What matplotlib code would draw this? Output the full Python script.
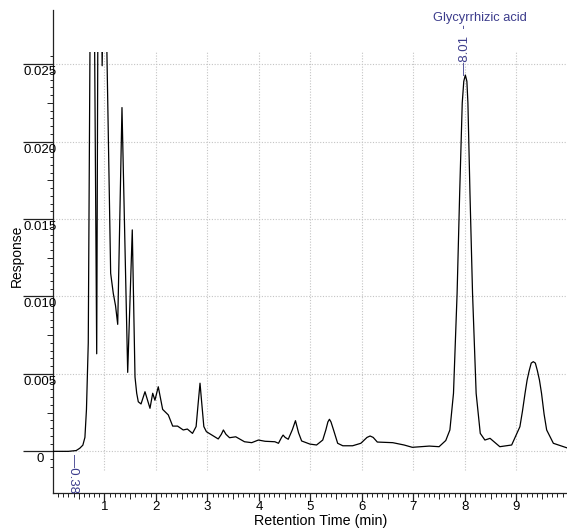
import numpy as np
import matplotlib
matplotlib.use("Agg")
import matplotlib.pyplot as plt
from matplotlib.ticker import FixedLocator
from matplotlib.patches import Rectangle
from matplotlib.transforms import ScaledTranslation

plt.rcParams['font.family'] = ['Liberation Sans', 'DejaVu Sans']

# chromatogram trace (time in min, response)
time_min = [0.00, 0.30, 0.45, 0.52, 0.58, 0.62, 0.65, 0.685, 0.76, 0.849,
            0.89, 0.955, 1.00, 1.12, 1.171, 1.215, 1.257, 1.34, 1.451, 1.54,
            1.593, 1.626, 1.657, 1.71, 1.787, 1.884, 1.937, 1.98, 2.045, 2.13,
            2.24, 2.325, 2.42, 2.53, 2.61, 2.71, 2.78, 2.82, 2.856, 2.89,
            2.93, 2.98, 3.21, 3.27, 3.31, 3.36, 3.43, 3.55, 3.72, 3.86, 3.99, 4.12,
            4.31, 4.38, 4.44, 4.47, 4.51, 4.57, 4.65, 4.71, 4.77, 4.83, 4.99, 5.12,
            5.24, 5.30, 5.34, 5.37, 5.40, 5.45, 5.53, 5.63, 5.82, 5.98, 6.10, 6.16, 6.22, 6.30,
            6.60, 6.82, 6.98, 7.31, 7.50, 7.63, 7.71, 7.78, 7.85, 7.90,
            7.95, 7.98, 8.01, 8.04, 8.06, 8.10, 8.15, 8.22, 8.30, 8.39, 8.49, 8.68,
            8.91, 9.07, 9.12, 9.17, 9.21, 9.25, 9.29, 9.33, 9.37, 9.41, 9.45, 9.49,
            9.54, 9.59, 9.72, 9.98]
response = [0.0, 0.0, 0.00005, 0.0002, 0.0004, 0.0009, 0.0027, 0.0070, 0.0500, 0.0063,
            0.0450, 0.0249, 0.0350, 0.0115, 0.0102, 0.0094, 0.0082, 0.0222, 0.0051, 0.0143,
            0.0048, 0.00375, 0.0032, 0.00306, 0.00385, 0.00278, 0.00375, 0.0033, 0.00417, 0.00271,
            0.00235, 0.00163, 0.00163, 0.00138, 0.00144, 0.00116, 0.0016, 0.0031, 0.0044, 0.0031,
            0.0016, 0.00127, 0.0008, 0.0011, 0.00138, 0.0011, 0.00088, 0.00094, 0.00062, 0.00056,
            0.00073, 0.00065,
            0.00062, 0.00052, 0.0009, 0.00105, 0.0009, 0.00078, 0.0014, 0.00198, 0.0012, 0.00067,
            0.00047, 0.00041,
            0.00073, 0.00138, 0.0019, 0.00207, 0.0019, 0.00138, 0.00052, 0.00036, 0.00036, 0.00052,
            0.0009, 0.00099, 0.0009, 0.0006,
            0.00056, 0.00041, 0.00026, 0.00034, 0.0003, 0.0007, 0.00138, 0.00375, 0.0102, 0.01667,
            0.0225, 0.0239, 0.0243, 0.0239, 0.0225, 0.01667, 0.0102, 0.00375, 0.00116, 0.00073,
            0.00084, 0.0003,
            0.00041, 0.00159, 0.0026, 0.00375, 0.0046, 0.0052, 0.0057, 0.00579, 0.0057, 0.0052,
            0.0046, 0.00375,
            0.0024, 0.00138, 0.00052, 0.00023]

peak_times = [0.38, 8.01]
compound = "Glycyrrhizic acid"

y_major = [0, 0.005, 0.010, 0.015, 0.020, 0.025]
y_labels = ['0', '0.005', '0.010', '0.015', '0.020', '0.025']
x_major = [1, 2, 3, 4, 5, 6, 7, 8, 9]

ann_col = '#3c3c8c'
grid_col = '#c4c4c4'
clip_top = 0.0258

fig = plt.figure(figsize=(5.67, 5.29), dpi=100)
ax = fig.add_axes([53 / 567, 36 / 529, 514 / 567, 483 / 529])
ax.set_xlim(0, 9.985)
ax.set_ylim(-0.00269, 0.0285)

for s in ['top', 'right']:
    ax.spines[s].set_visible(False)
for s in ['left', 'bottom']:
    ax.spines[s].set_linewidth(0.9)
    ax.spines[s].set_color('#222222')

# dotted grid inside the data window
ax.vlines(x_major, -0.0012, clip_top, colors=grid_col, linewidth=0.8,
          linestyles=(0, (1, 1.5)), zorder=0)
ax.hlines(y_major, 0, 9.985, colors=grid_col, linewidth=0.8,
          linestyles=(0, (1, 1.5)), zorder=0)

line, = ax.plot(time_min, response, color='black', lw=0.9, zorder=3)
clip = Rectangle((0, -0.0027), 10, clip_top + 0.0027, transform=ax.transData)
line.set_clip_path(clip)

# ticks
ax.set_yticks(y_major)
ax.yaxis.set_minor_locator(FixedLocator(
    [v for v in np.arange(-0.001, 0.02551, 0.0005) if abs(v / 0.0025 - round(v / 0.0025)) > 1e-6]))
ax.tick_params(axis='y', which='major', length=21.6, width=0.9, color='#222222', labelleft=False)
ax.tick_params(axis='y', which='minor', length=2.3, width=0.7, color='#222222')
sy = ax.secondary_yaxis('left')
sy.set_yticks([0.0025, 0.0075, 0.0125, 0.0175, 0.0225])
sy.tick_params(length=4, width=0.7, color='#222222', labelleft=False)
sy.spines['left'].set_visible(False)

ax.set_xticks(x_major)
ax.xaxis.set_minor_locator(FixedLocator(
    [v for v in np.arange(0, 9.95, 0.1) if abs(v * 2 - round(v * 2)) > 1e-6]))
ax.tick_params(axis='x', which='major', length=6, width=0.9, color='#222222',
               labelsize=9.5, pad=0)
ax.tick_params(axis='x', which='minor', length=3, width=0.7, color='#222222')
sx = ax.secondary_xaxis('bottom')
sx.set_xticks([0.5 + i for i in range(10)])
sx.tick_params(length=4.3, width=0.7, color='#222222', labelbottom=False)
sx.spines['bottom'].set_visible(False)

# y tick labels sit under the long tick lines
off = ScaledTranslation(0, -2 / 100, fig.dpi_scale_trans)
for v, lab in zip(y_major, y_labels):
    ax.text(-0.0253, v, lab, transform=ax.get_yaxis_transform() + off,
            ha='center', va='top', fontsize=9.5)

# peak annotations
ax.text(peak_times[0], -0.0002, '\u20140.38', rotation=-90, ha='center', va='top',
        color=ann_col, fontsize=9.5)
i_pk = int(np.argmin(np.abs(np.array(time_min) - peak_times[1])))
ax.text(peak_times[1], response[i_pk], '\u20148.01  -', rotation=90, ha='center',
        va='bottom', color=ann_col, fontsize=9.5)
ax.text(peak_times[1] + 0.29, 0.0280, compound, ha='center', va='center',
        color=ann_col, fontsize=9.3)

fig.text(17 / 567, 1 - 256 / 529, 'Response', rotation=90, ha='center', va='center',
         fontsize=10)
fig.text(321 / 567, 1 - 521.5 / 529, 'Retention Time (min)', ha='center', va='center',
         fontsize=10.3)

fig.savefig('out.png', dpi=100)
